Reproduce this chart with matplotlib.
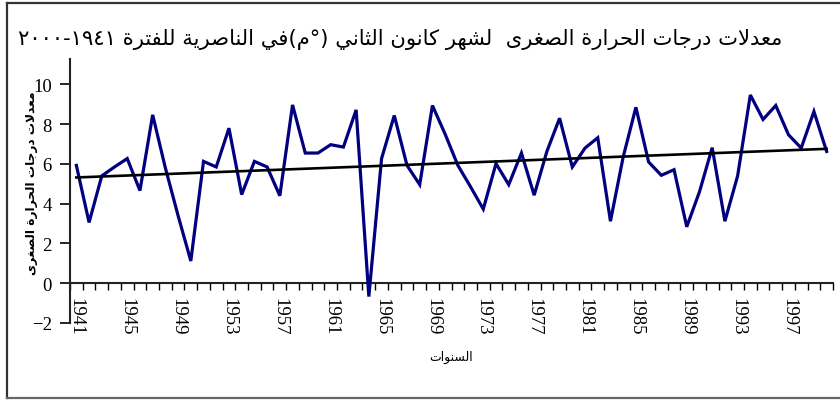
import numpy as np
import matplotlib
matplotlib.use("Agg")
import matplotlib.pyplot as plt
from matplotlib.lines import Line2D

# ---------------- data ----------------
years = list(range(1941, 2001))
tmin = [5.93, 3.06, 5.40, 5.85, 6.27, 4.66, 8.47, 5.80, 3.40, 1.12,
        6.13, 5.85, 7.80, 4.46, 6.13, 5.85, 4.40, 8.97, 6.55, 6.55,
        6.97, 6.85, 8.72, -0.67, 6.27, 8.44, 5.93, 4.96, 8.94, 7.50,
        5.93, 4.85, 3.73, 6.02, 4.96, 6.55, 4.43, 6.63, 8.30, 5.85,
        6.80, 7.32, 3.12, 6.35, 8.85, 6.10, 5.43, 5.71, 2.84, 4.60,
        6.82, 3.12, 5.40, 9.47, 8.24, 8.94, 7.47, 6.80, 8.64, 6.63]
year_labels = [str(y) for y in years[::4]]
yticks = [-2, 0, 2, 4, 6, 8, 10]
ytick_labels = ['\u22122', '0', '2', '4', '6', '8', '10']

title_txt = "معدلات درجات الحرارة الصغرى  لشهر كانون الثاني (°م)في الناصرية للفترة ١٩٤١-٢٠٠٠"
ylabel_txt = "معدلات درجات الحرارة الصغرى"
xlabel_txt = "السنوات"

# ---------------- minimal Arabic shaping + bidi ----------------
FORMS = {  # iso, fin, ini, med
    'ا': (0xFE8D, 0xFE8E, None, None), 'ب': (0xFE8F, 0xFE90, 0xFE91, 0xFE92),
    'ة': (0xFE93, 0xFE94, None, None), 'ت': (0xFE95, 0xFE96, 0xFE97, 0xFE98),
    'ث': (0xFE99, 0xFE9A, 0xFE9B, 0xFE9C), 'ج': (0xFE9D, 0xFE9E, 0xFE9F, 0xFEA0),
    'ح': (0xFEA1, 0xFEA2, 0xFEA3, 0xFEA4), 'خ': (0xFEA5, 0xFEA6, 0xFEA7, 0xFEA8),
    'د': (0xFEA9, 0xFEAA, None, None), 'ذ': (0xFEAB, 0xFEAC, None, None),
    'ر': (0xFEAD, 0xFEAE, None, None), 'ز': (0xFEAF, 0xFEB0, None, None),
    'س': (0xFEB1, 0xFEB2, 0xFEB3, 0xFEB4), 'ش': (0xFEB5, 0xFEB6, 0xFEB7, 0xFEB8),
    'ص': (0xFEB9, 0xFEBA, 0xFEBB, 0xFEBC), 'ض': (0xFEBD, 0xFEBE, 0xFEBF, 0xFEC0),
    'ط': (0xFEC1, 0xFEC2, 0xFEC3, 0xFEC4), 'ظ': (0xFEC5, 0xFEC6, 0xFEC7, 0xFEC8),
    'ع': (0xFEC9, 0xFECA, 0xFECB, 0xFECC), 'غ': (0xFECD, 0xFECE, 0xFECF, 0xFED0),
    'ف': (0xFED1, 0xFED2, 0xFED3, 0xFED4), 'ق': (0xFED5, 0xFED6, 0xFED7, 0xFED8),
    'ك': (0xFED9, 0xFEDA, 0xFEDB, 0xFEDC), 'ل': (0xFEDD, 0xFEDE, 0xFEDF, 0xFEE0),
    'م': (0xFEE1, 0xFEE2, 0xFEE3, 0xFEE4), 'ن': (0xFEE5, 0xFEE6, 0xFEE7, 0xFEE8),
    'ه': (0xFEE9, 0xFEEA, 0xFEEB, 0xFEEC), 'و': (0xFEED, 0xFEEE, None, None),
    'ى': (0xFEEF, 0xFEF0, None, None), 'ي': (0xFEF1, 0xFEF2, 0xFEF3, 0xFEF4),
}


def dual(c):
    return c in FORMS and FORMS[c][2] is not None


def shape(s):
    out = []
    i = 0
    n = len(s)
    while i < n:
        c = s[i]
        if c not in FORMS:
            out.append(c)
            i += 1
            continue
        prev_join = i > 0 and dual(s[i - 1]) and (out and out[-1] not in ('\uFEFB', '\uFEFC'))
        if c == 'ل' and i + 1 < n and s[i + 1] == 'ا':
            out.append('\uFEFC' if prev_join else '\uFEFB')
            i += 2
            continue
        next_join = dual(c) and i + 1 < n and s[i + 1] in FORMS
        iso, fin, ini, med = FORMS[c]
        if prev_join and next_join:
            cp = med
        elif prev_join:
            cp = fin
        elif next_join:
            cp = ini
        else:
            cp = iso
        out.append(chr(cp))
        i += 1
    return ''.join(out)


DIGITS = set('0123456789٠١٢٣٤٥٦٧٨٩')
MIRROR = {'(': ')', ')': '('}


def visual(s):
    s = shape(s)
    runs = []
    for ch in s:
        isd = ch in DIGITS
        if runs and runs[-1][0] == isd:
            runs[-1][1].append(ch)
        else:
            runs.append([isd, [ch]])
    res = []
    for isd, chars in reversed(runs):
        if isd:
            res.append(''.join(chars))
        else:
            res.append(''.join(MIRROR.get(c, c) for c in reversed(chars)))
    return ''.join(res)


# ---------------- figure ----------------
W, H = 840, 402
fig = plt.figure(figsize=(W / 100, H / 100), dpi=100)

def fx(px):
    return px / W

def fy(py):
    return 1 - py / H

ax = fig.add_axes([fx(70), fy(324), fx(833) - fx(70), fy(60) - fy(324)])

x = np.arange(len(years))
ax.plot(x, tmin, color='#000080', lw=2.3, zorder=3, solid_joinstyle='miter')
coef = np.polyfit(x, tmin, 1)
ax.plot([x[0], x[-1]], np.polyval(coef, [x[0], x[-1]]), color='black', lw=1.9, zorder=4)

ax.set_xlim(-0.5, len(years) - 0.5)
ax.set_ylim(-2, 11.28)

for side in ('top', 'right'):
    ax.spines[side].set_visible(False)
ax.spines['bottom'].set_position(('data', 0))
for side in ('left', 'bottom'):
    ax.spines[side].set_linewidth(1.5)
    ax.spines[side].set_color('#222222')

ax.set_yticks(yticks)
ax.set_yticklabels(ytick_labels, fontfamily='Liberation Serif', fontsize=13.5)
ax.tick_params(axis='y', length=7, width=1.2, pad=6)

ax.set_xticks(x[::4])
ax.set_xticklabels(year_labels, rotation=-90, fontfamily='Liberation Serif', fontsize=13.5)
ax.set_xticks(np.arange(-0.5, len(years)), minor=True)
ax.tick_params(axis='x', which='major', length=0, pad=10)
ax.tick_params(axis='x', which='minor', length=5, width=1.0)

arfont = ['DejaVu Sans']
t_title = fig.text(fx(400), fy(39), visual(title_txt), ha='center', va='center',
                   family=arfont, fontsize=15)
t_y = fig.text(fx(32), fy(183), visual(ylabel_txt), ha='center', va='center',
               rotation=90, family=arfont, fontsize=9, fontweight='bold')
t_x = fig.text(fx(451), fy(357), visual(xlabel_txt), ha='center', va='center',
               family=arfont, fontsize=8)

# fit text sizes to the reference extents
r = fig.canvas.get_renderer()
for t, target, dim in ((t_title, 770, 'w'), (t_y, 183, 'h'), (t_x, 44, 'w')):
    bb = t.get_window_extent(r)
    cur = bb.width if dim == 'w' else bb.height
    t.set_fontsize(t.get_fontsize() * target / cur)

# outer chart frame
fc = '#333333'
fig.add_artist(Line2D([fx(7), 1.01], [fy(4), fy(4)], color=fc, lw=1.6, transform=fig.transFigure))
fig.add_artist(Line2D([fx(7), fx(7)], [fy(4), fy(399)], color=fc, lw=1.6, transform=fig.transFigure))
fig.add_artist(Line2D([fx(7), 1.01], [fy(399), fy(399)], color='#666666', lw=1.6, transform=fig.transFigure))

fig.savefig('out.png', dpi=100)
